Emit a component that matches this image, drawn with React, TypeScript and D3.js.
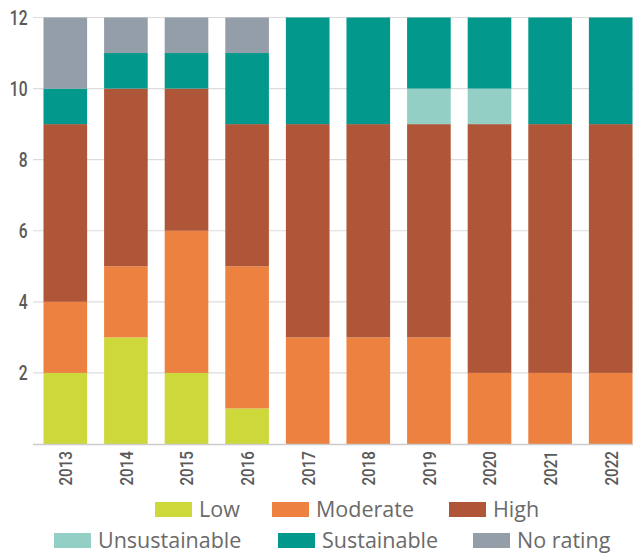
import * as d3 from 'd3';
import React, { useEffect, useRef } from 'react';

const years = ['2013', '2014', '2015', '2016', '2017', '2018', '2019', '2020', '2021', '2022'];
const categories = ['Low', 'Moderate', 'High', 'Unsustainable', 'Sustainable', 'No rating'];
const colors = ['#cdd93a', '#ed813f', '#b05638', '#93cfc5', '#02998c', '#949ea8'];

const low = [2, 3, 2, 1, 0, 0, 0, 0, 0, 0];
const moderate = [2, 2, 4, 4, 3, 3, 3, 2, 2, 2];
const high = [5, 5, 4, 4, 6, 6, 6, 7, 7, 7];
const unsustainable = [0, 0, 0, 0, 0, 0, 1, 1, 0, 0];
const sustainable = [1, 1, 1, 2, 3, 3, 2, 2, 3, 3];
const noRating = [2, 1, 1, 1, 0, 0, 0, 0, 0, 0];

const yTicks = [2, 4, 6, 8, 10, 12];

const App = () => {
  const ref = useRef<SVGSVGElement>(null);

  useEffect(() => {
    document.body.style.margin = '0';
    const svg = d3.select(ref.current);
    svg.selectAll('*').remove();

    const series = [low, moderate, high, unsustainable, sustainable, noRating];
    const rows = years.map((year, i) => {
      const row: any = { year };
      categories.forEach((c, k) => (row[c] = series[k][i]));
      return row;
    });
    const stacked = d3.stack().keys(categories)(rows);

    const x = d3.scaleBand().domain(years).range([35, 641]).paddingInner(0.28).paddingOuter(0.14);
    const y = d3.scaleLinear().domain([0, 12]).range([444, 17.5]);
    const color = d3.scaleOrdinal<string>().domain(categories).range(colors);

    // gridlines
    svg.append('g')
      .selectAll('line')
      .data(yTicks)
      .enter().append('line')
      .attr('x1', 33).attr('x2', 633)
      .attr('y1', d => y(d)).attr('y2', d => y(d))
      .attr('stroke', '#dcdcdc').attr('stroke-width', 1.2);

    // y labels (condensed look)
    svg.append('g')
      .selectAll('text')
      .data(yTicks)
      .enter().append('text')
      .attr('transform', d => `translate(27.5,${y(d)}) scale(0.78,1)`)
      .attr('dy', '0.36em')
      .attr('text-anchor', 'end')
      .attr('font-family', 'Roboto, sans-serif')
      .attr('font-weight', 500)
      .attr('font-size', 20)
      .attr('fill', '#5a5a5a')
      .text(d => d);

    // bars
    svg.append('g')
      .selectAll('g')
      .data(stacked)
      .enter().append('g')
      .attr('fill', d => color(d.key))
      .selectAll('rect')
      .data(d => d)
      .enter().append('rect')
      .attr('x', d => x(d.data.year as any)!)
      .attr('width', x.bandwidth())
      .attr('y', d => y(d[1]))
      .attr('height', d => y(d[0]) - y(d[1]));

    // baseline
    svg.append('line')
      .attr('x1', 33).attr('x2', 633)
      .attr('y1', 444.5).attr('y2', 444.5)
      .attr('stroke', '#cccccc').attr('stroke-width', 1.5);

    // x labels
    svg.append('g')
      .selectAll('text')
      .data(years)
      .enter().append('text')
      .attr('transform', d => `translate(${x(d)! + x.bandwidth() / 2},451) rotate(-90) scale(0.8,1)`)
      .attr('dy', '0.36em')
      .attr('text-anchor', 'end')
      .attr('font-family', 'Roboto, sans-serif')
      .attr('font-weight', 500)
      .attr('font-size', 19)
      .attr('fill', '#5a5a5a')
      .text(d => d);

    // legend
    const legendPos = [
      [155, 502], [272, 502], [449, 502],
      [54, 533], [278, 533], [473, 533],
    ];
    const legend = svg.append('g')
      .selectAll('g')
      .data(categories)
      .enter().append('g')
      .attr('transform', (d, i) => `translate(${legendPos[i][0]},${legendPos[i][1]})`);
    legend.append('rect')
      .attr('width', 37).attr('height', 15)
      .attr('fill', d => color(d));
    legend.append('text')
      .attr('x', 44).attr('y', 7.5).attr('dy', '0.36em')
      .attr('font-family', '"Open Sans", sans-serif')
      .attr('font-weight', 400)
      .attr('font-size', 21.5)
      .attr('fill', '#6a6a6a')
      .text(d => d);
  }, []);

  return <svg ref={ref} width={633} height={554} style={{ display: 'block' }} />;
};

export default App;
